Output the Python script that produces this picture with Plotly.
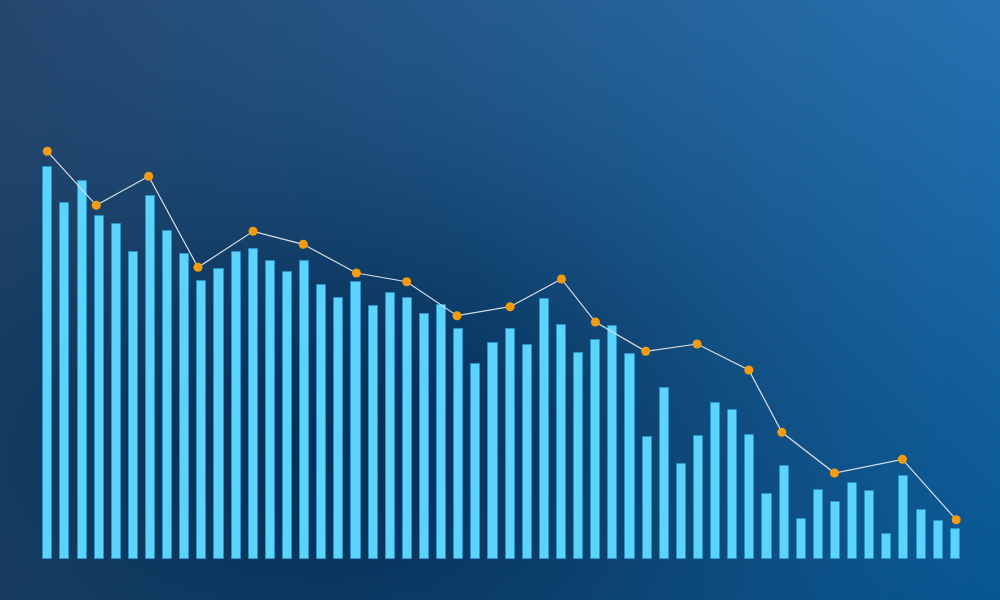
import base64, struct, zlib
import numpy as np
import plotly.graph_objects as go

# ---------------- data ----------------
bar_index = list(range(1, 55))
bar_values = [391.8, 355.2, 377.2, 342.2, 334.5, 306.8, 362.8, 327.5, 304.8, 277.2,
              289.5, 306.8, 309.8, 297.2, 286.8, 297.2, 273.8, 260.5, 276.5, 252.2,
              265.5, 260.8, 244.2, 253.5, 229.5, 194.2, 215.2, 229.5, 213.5, 259.2,
              233.5, 205.2, 218.2, 232.2, 204.5, 121.2, 170.5, 94.2, 122.2, 155.2,
              148.5, 123.5, 64.2, 92.5, 39.5, 68.2, 56.5, 75.8, 67.2, 24.2,
              82.5, 48.5, 37.8, 29.2]

line_x = [0.97, 3.83, 6.89, 9.77, 12.99, 15.92, 19.02, 21.96, 24.90, 28.0,
          31.0, 32.98, 35.92, 38.92, 41.94, 43.87, 46.94, 50.91, 54.05]
line_values = [407.2, 353.2, 382.2, 291.2, 327.2, 314.2, 285.5, 276.8, 242.8, 251.8,
               279.5, 236.5, 207.2, 214.5, 188.5, 126.2, 85.5, 99.2, 38.8]

# ---------------- background gradient image ----------------
W, H = 250, 150
xs = np.linspace(0, 1, W)[None, :]
ys = np.linspace(0, 1, H)[:, None]
TL = np.array([38, 72, 112.0]); TR = np.array([38, 114, 178.0])
BL = np.array([32, 66, 100.0]); BR = np.array([8, 88, 148.0])
top = TL[None, None, :] * (1 - xs[..., None]) + TR[None, None, :] * xs[..., None]
bot = BL[None, None, :] * (1 - xs[..., None]) + BR[None, None, :] * xs[..., None]
img = top * (1 - ys[..., None]) + bot * ys[..., None]
px = xs * 1000; py = ys * 600
w = 0.8 * np.exp(-(((px - 330) / 260) ** 2 + ((py - 440) / 170) ** 2) / 2)
dark = np.array([0, 42, 82.0])
img = img * (1 - w[..., None]) + dark[None, None, :] * w[..., None]
img = np.clip(img, 0, 255).astype(np.uint8)

def png_bytes(arr):
    h, w_ = arr.shape[:2]
    raw = b"".join(b"\x00" + arr[r].tobytes() for r in range(h))
    def chunk(t, d):
        c = struct.pack(">I", len(d)) + t + d
        return c + struct.pack(">I", zlib.crc32(t + d) & 0xffffffff)
    return (b"\x89PNG\r\n\x1a\n" + chunk(b"IHDR", struct.pack(">IIBBBBB", w_, h, 8, 2, 0, 0, 0))
            + chunk(b"IDAT", zlib.compress(raw, 9)) + chunk(b"IEND", b""))

bg_uri = "data:image/png;base64," + base64.b64encode(png_bytes(img)).decode()

# ---------------- figure ----------------
fig = go.Figure()
fig.add_trace(go.Bar(
    x=bar_index, y=bar_values, width=0.53,
    marker=dict(color="#5cd3fb", line=dict(color="rgba(40,150,205,0.9)", width=1)),
    hoverinfo="skip", showlegend=False))
fig.add_trace(go.Scatter(
    x=line_x, y=line_values, mode="lines+markers",
    line=dict(color="#d9dfe6", width=1.2),
    marker=dict(color="#f59b0d", size=9, line=dict(width=0)),
    hoverinfo="skip", showlegend=False))

fig.update_layout(
    width=1000, height=600,
    margin=dict(l=0, r=0, t=0, b=0),
    paper_bgcolor="#1f4a78", plot_bgcolor="rgba(0,0,0,0)",
    xaxis=dict(range=[-1.7916, 56.609], visible=False, fixedrange=True),
    yaxis=dict(range=[-41.5, 558.5], visible=False, fixedrange=True),
    images=[dict(source=bg_uri, xref="paper", yref="paper", x=0, y=1,
                 sizex=1, sizey=1, sizing="stretch", layer="below",
                 xanchor="left", yanchor="top")],
    bargap=0,
)

fig.write_html("out.html", config={"displayModeBar": False},
               post_script="document.body.style.margin='0';document.body.style.overflow='hidden';")
